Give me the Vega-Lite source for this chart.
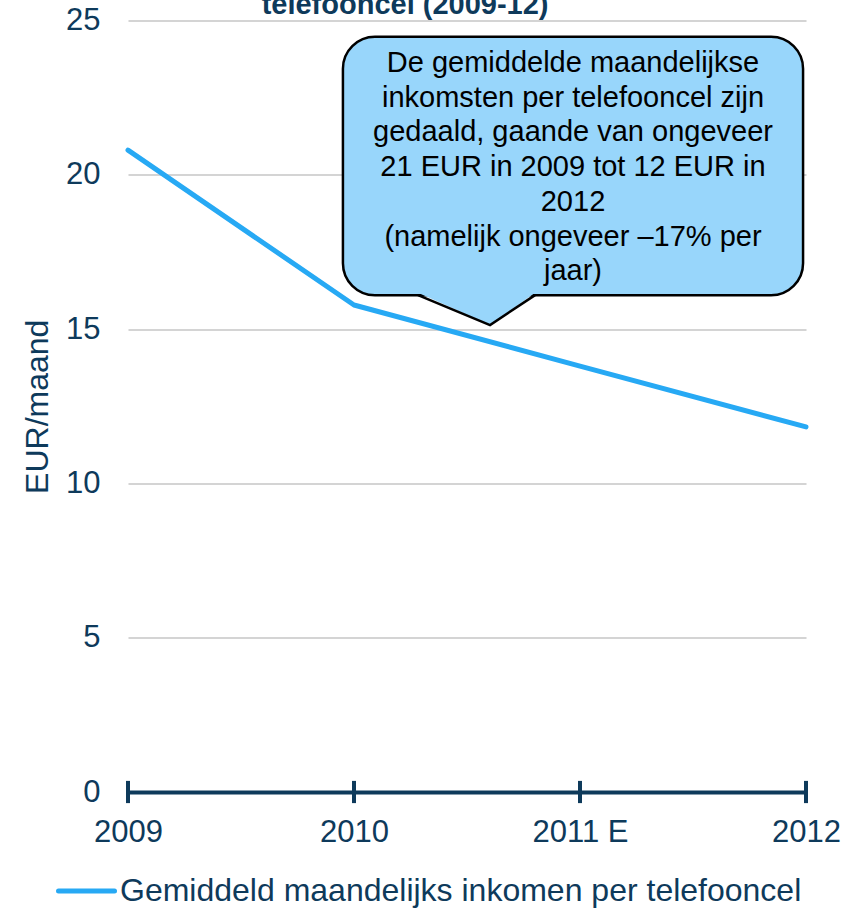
{
  "$schema": "https://vega.github.io/schema/vega-lite/v6.json",
  "width": 678,
  "height": 771.5,
  "autosize": {"type": "none"},
  "padding": {"left": 128, "top": 20.5, "right": 58, "bottom": 116},
  "background": "white",
  "config": {
    "view": {"stroke": null},
    "font": "Liberation Sans"
  },
  "data": {
    "values": [
      {"idx": 0, "jaar": "2009", "waarde": 20.8, "serie": "Gemiddeld maandelijks inkomen per telefooncel"},
      {"idx": 1, "jaar": "2010", "waarde": 15.78, "serie": "Gemiddeld maandelijks inkomen per telefooncel"},
      {"idx": 2, "jaar": "2011 E", "waarde": 13.8, "serie": "Gemiddeld maandelijks inkomen per telefooncel"},
      {"idx": 3, "jaar": "2012", "waarde": 11.83, "serie": "Gemiddeld maandelijks inkomen per telefooncel"}
    ]
  },
  "layer": [
    {
      "mark": {"type": "line", "strokeWidth": 5, "strokeCap": "round", "strokeJoin": "round"},
      "encoding": {
        "x": {
          "field": "idx",
          "type": "quantitative",
          "scale": {"domain": [0, 3], "nice": false, "zero": false},
          "axis": {
            "values": [0, 1, 2, 3],
            "labelExpr": "['2009','2010','2011 E','2012'][datum.value]",
            "title": null,
            "grid": false,
            "ticks": false,
            "domainColor": "#0E3A5B",
            "domainWidth": 4,
            "labelFont": "Liberation Sans",
            "labelFontSize": 31,
            "labelColor": "#0E3A5B",
            "labelPadding": 25,
            "labelFlush": false,
            "labelOverlap": false
          }
        },
        "y": {
          "field": "waarde",
          "type": "quantitative",
          "scale": {"domain": [0, 25], "nice": false},
          "axis": {
            "values": [0, 5, 10, 15, 20, 25],
            "title": "EUR/maand",
            "domain": false,
            "ticks": false,
            "gridColor": {"condition": {"test": "datum.value === 0", "value": "transparent"}, "value": "#D4D4D4"},
            "gridWidth": 2,
            "labelFont": "Liberation Sans",
            "labelFontSize": 31,
            "labelColor": "#0E3A5B",
            "labelPadding": 28,
            "labelFlush": false,
            "titleFont": "Liberation Sans",
            "titleFontSize": 32,
            "titleFontWeight": "normal",
            "titleColor": "#0E3A5B",
            "titlePadding": 11
          }
        },
        "color": {
          "field": "serie",
          "type": "nominal",
          "scale": {"range": ["#27A9F4"]},
          "legend": {
            "orient": "none",
            "legendX": -72,
            "legendY": 840,
            "title": null,
            "padding": 0,
            "symbolType": "stroke",
            "symbolSize": 3136,
            "symbolStrokeWidth": 5,
            "labelFont": "Liberation Sans",
            "labelFontSize": 32,
            "labelColor": "#0E3A5B",
            "labelOffset": 3,
            "labelLimit": 1000,
            "encode": {"symbols": {"update": {"strokeCap": {"value": "round"}}}}
          }
        }
      }
    },
    {
      "mark": {"type": "rule", "strokeWidth": 4, "color": "#0E3A5B"},
      "encoding": {
        "x": {"field": "idx", "type": "quantitative"},
        "y": {"datum": -0.36},
        "y2": {"datum": 0.36}
      }
    },
    {
      "data": {"values": [{}]},
      "mark": {
        "type": "text",
        "text": "telefooncel (2009-12)",
        "font": "Liberation Sans",
        "fontSize": 29,
        "fontWeight": "bold",
        "align": "center",
        "baseline": "alphabetic",
        "color": "#0E3A5B"
      },
      "encoding": {
        "x": {"datum": 1.226},
        "y": {"datum": 25.2}
      }
    },
    {
      "data": {"values": [{}]},
      "mark": {"type": "rect", "cornerRadius": 32, "fill": "#98D6FB", "stroke": "#000000", "strokeWidth": 2.5},
      "encoding": {
        "x": {"datum": 0.951},
        "x2": {"datum": 2.987},
        "y": {"datum": 24.47},
        "y2": {"datum": 16.1}
      }
    },
    {
      "data": {"values": [{}]},
      "mark": {"type": "point", "shape": "M -1 -0.45 L 0 0 L 0.625 -0.45 Z", "size": 20736, "filled": true, "fill": "#98D6FB", "fillOpacity": 1, "strokeWidth": 0, "opacity": 1},
      "encoding": {
        "x": {"datum": 1.602},
        "y": {"datum": 15.13}
      }
    },
    {
      "data": {"values": [{}]},
      "mark": {"type": "point", "shape": "M -1 -0.4167 L 0 0 L 0.625 -0.4167", "size": 20736, "filled": false, "fill": null, "stroke": "#000000", "strokeWidth": 2.5, "opacity": 1},
      "encoding": {
        "x": {"datum": 1.602},
        "y": {"datum": 15.13}
      }
    },
    {
      "data": {"values": [{}]},
      "mark": {
        "type": "text",
        "text": ["De gemiddelde maandelijkse", "inkomsten per telefooncel zijn", "gedaald, gaande van ongeveer", "21 EUR in 2009 tot 12 EUR in", "2012", "(namelijk ongeveer –17% per", "jaar)"],
        "font": "Liberation Sans",
        "fontSize": 29,
        "lineHeight": 34.7,
        "align": "center",
        "baseline": "alphabetic",
        "color": "#000000"
      },
      "encoding": {
        "x": {"datum": 1.969},
        "y": {"datum": 23.33}
      }
    }
  ]
}
